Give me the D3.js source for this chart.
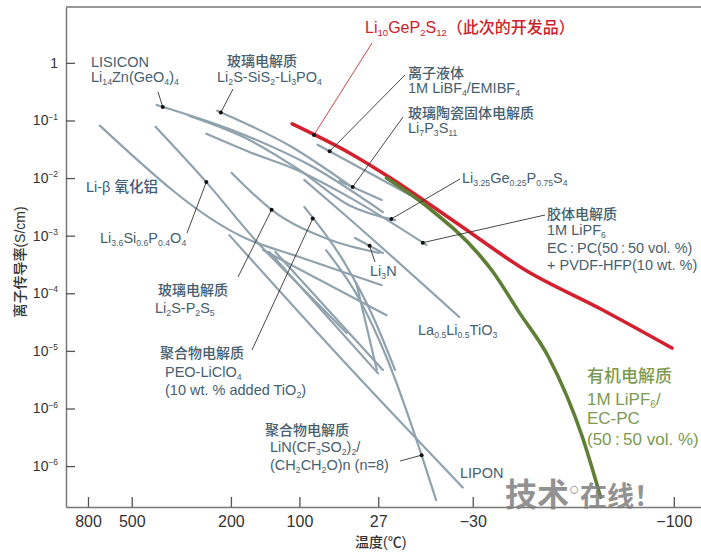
<!DOCTYPE html>
<html><head><meta charset="utf-8">
<script src="https://cdn.jsdelivr.net/npm/d3@7"></script>
<style>body{margin:0;background:#fff}svg{display:block}</style>
</head><body><svg id="chart" width="701" height="553"></svg>
<script>
// Arrhenius plot: x = 1000/T (K^-1), y = log10(conductivity / S cm^-1)
const tempTicks = [800, 500, 200, 100, 27, -30, -100];          // °C
const logTicks = [0, -1, -2, -3, -4, -5, -6, -7];
const logTickLabels = ["1", "10^{−1}", "10^{−2}", "10^{−3}", "10^{−4}", "10^{−5}", "10^{−6}", "10^{−6}"];

// Li10GeP2S12 and the organic liquid electrolyte
const lgps = [[2.62,-1.06],[3.09,-1.56],[3.42,-1.98],[4.00,-2.81],[4.55,-3.60],[5.16,-4.26],[5.76,-4.95]];
const organic = [[3.40,-2.00],[3.75,-2.52],[4.17,-3.34],[4.27,-3.60],[4.50,-4.34],[4.74,-5.11],[5.02,-6.50],[5.17,-7.54]];

// other electrolytes
const liBetaAlumina = [[1.03,-1.09],[2.23,-3.04],[2.68,-3.37],[3.36,-3.86]];
const lisicon = [[1.50,-0.73],[2.19,-1.22],[2.76,-1.77],[3.37,-2.59]];
const glassSiS2 = [[2.00,-0.83],[2.60,-1.44],[3.11,-2.15]];
const li7p3s11 = [[3.01,-2.05],[3.36,-2.38]];
const ionicLiquid = [[2.83,-1.42],[3.59,-2.29]];
const gel = [[1.91,-1.23],[2.27,-1.55],[2.66,-1.86],[3.09,-2.33],[3.73,-3.16]];
const thioLisicon = [[1.77,-0.92],[2.23,-1.30],[2.68,-1.86],[3.09,-2.47],[3.47,-2.73]];
const liSiPO = [[1.49,-1.11],[1.91,-2.07],[2.33,-3.11],[2.68,-3.86],[3.07,-4.69]];
const glassP2S5 = [[2.12,-1.91],[2.45,-2.55],[2.93,-3.07],[3.34,-3.30]];
const li3n = [[3.14,-3.04],[3.37,-3.30]];
const llto = [[2.72,-2.03],[3.04,-2.61],[4.00,-4.41]];
const peo = [[2.72,-2.50],[3.05,-3.46],[3.30,-4.46],[3.47,-5.33]];
const peoLiTFSI = [[2.90,-3.25],[3.18,-4.12],[3.40,-5.11],[3.69,-6.81],[3.81,-7.59]];
const lipon = [[2.10,-2.99],[3.09,-5.28],[4.03,-7.37]];
const otherA = [[2.38,-3.25],[3.40,-4.38]];
const otherB = [[2.43,-3.28],[3.33,-5.39]];
const otherC = [[2.48,-3.28],[3.37,-5.33]];
const otherD = [[3.15,-3.82],[3.32,-5.33]];

const grayLines = [liBetaAlumina, lisicon, glassSiS2, li7p3s11, ionicLiquid, gel, thioLisicon,
  liSiPO, glassP2S5, li3n, llto, peo, peoLiTFSI, lipon, otherA, otherB, otherC, otherD];

const W = 701, H = 553;
const svg = d3.select("#chart");
const FONT = "'Liberation Sans','Noto Sans CJK SC',Arial,sans-serif";
const x = d3.scaleLinear().domain([0.75, 6.0]).range([66, 701]);
const y = d3.scaleLinear().domain([-7.71, 0.97]).range([507, 7]);
const invT = c => 1000 / (c + 273.15);

// text with _{sub} and ^{sup} runs
function rich(g, str, size) {
  const re = /([_^])\{([^}]*)\}|([^_^]+)/g;
  let m, cur = 0;
  while ((m = re.exec(str))) {
    if (m[3] !== undefined) {
      g.append("tspan").attr("font-size", size).attr("dy", -cur).text(m[3]);
      cur = 0;
    } else {
      const t = m[1] === "_" ? size * 0.2 : -size * 0.42;
      g.append("tspan").attr("font-size", size * 0.6).attr("dy", t - cur).text(m[2]);
      cur = t;
    }
  }
  return g;
}
function label(str, px, py, size, color, extra) {
  const t = svg.append("text").attr("x", px).attr("y", py)
    .attr("font-family", FONT).attr("fill", color);
  if (extra) extra(t);
  return rich(t, str, size);
}
const cjk = t => t.attr("font-weight", 500);

// frame
svg.append("line").attr("x1", 66).attr("x2", W).attr("y1", 7).attr("y2", 7)
  .attr("stroke", "#777").attr("stroke-width", 1.5);

const xAxis = d3.axisBottom(x).tickValues(tempTicks.map(invT))
  .tickFormat((d, i) => String(tempTicks[i]).replace("-", "−"))
  .tickSize(-10).tickSizeOuter(0).tickPadding(9);
const gx = svg.append("g").attr("transform", `translate(0,${y.range()[0]})`).call(xAxis);
gx.select(".domain").attr("stroke", "#777").attr("stroke-width", 1.5);
gx.selectAll(".tick line").attr("stroke", "#555").attr("stroke-width", 1.3);
gx.selectAll(".tick text").attr("font-family", FONT).attr("font-size", 16).attr("fill", "#333");

const yAxis = d3.axisLeft(y).tickValues(logTicks).tickFormat("").tickSize(-9).tickSizeOuter(0);
const gy = svg.append("g").attr("transform", `translate(${x.range()[0]},0)`).call(yAxis);
gy.select(".domain").attr("stroke", "#777").attr("stroke-width", 1.5);
gy.selectAll(".tick line").attr("stroke", "#555").attr("stroke-width", 1.3);
logTicks.forEach((v, i) => {
  label(logTickLabels[i], 58, y(v) + 5, 14, "#333", t => t.attr("text-anchor", "end"));
});

// axis titles
svg.append("text").attr("x", 355).attr("y", 547).attr("font-family", FONT).attr("font-weight", 500)
  .attr("font-size", 14).attr("fill", "#333").text("温度(℃)");
svg.append("text").attr("transform", "translate(25,262) rotate(-90)").attr("text-anchor", "middle")
  .attr("font-family", FONT).attr("font-weight", 500).attr("font-size", 14).attr("fill", "#333")
  .text("离子传导率(S/cm)");

// curves
const line = d3.line().x(d => x(d[0])).y(d => y(d[1])).curve(d3.curveMonotoneX);
svg.append("g").selectAll("path").data(grayLines).join("path")
  .attr("d", line).attr("fill", "none").attr("stroke", "#90a2ad")
  .attr("stroke-width", 2.2).attr("stroke-linecap", "round");
svg.append("path").attr("d", line(lgps)).attr("fill", "none")
  .attr("stroke", "#d3202e").attr("stroke-width", 3.6).attr("stroke-linecap", "round");
svg.append("path").attr("d", line(organic)).attr("fill", "none")
  .attr("stroke", "#5f7f36").attr("stroke-width", 3.6).attr("stroke-linecap", "round");

// value of a series at a given 1000/T
function at(series, xv) {
  for (let i = 1; i < series.length; i++) {
    const [x0, y0] = series[i - 1], [x1, y1] = series[i];
    if (xv <= x1) return y0 + (y1 - y0) * (xv - x0) / (x1 - x0);
  }
  return series[series.length - 1][1];
}

// leader lines from labels to curves
const leaders = [
  { s: lisicon, xv: 1.55, from: [158, 92], c: "#333" },
  { s: glassSiS2, xv: 2.03, from: [233, 89], c: "#333" },
  { s: liSiPO, xv: 1.91, from: [187, 233], c: "#333" },
  { s: glassP2S5, xv: 2.45, from: [238, 277], c: "#333" },
  { s: peo, xv: 2.79, from: [252, 350], c: "#333" },
  { s: li3n, xv: 3.26, from: [375, 262], c: "#333" },
  { s: peoLiTFSI, xv: 3.69, from: [400, 461], c: "#333" },
  { s: lgps, xv: 2.80, from: [372, 43], c: "#c8313c" },
  { s: ionicLiquid, xv: 2.93, from: [405, 75], c: "#333" },
  { s: li7p3s11, xv: 3.12, from: [403, 117], c: "#333" },
  { s: thioLisicon, xv: 3.44, from: [460, 179], c: "#333" },
  { s: gel, xv: 3.70, from: [545, 215], c: "#333" },
];
leaders.forEach(d => {
  const tx = x(d.xv), ty = y(at(d.s, d.xv));
  svg.append("line").attr("x1", d.from[0]).attr("y1", d.from[1]).attr("x2", tx).attr("y2", ty)
    .attr("stroke", d.c).attr("stroke-width", 0.9);
  svg.append("circle").attr("cx", tx).attr("cy", ty).attr("r", 2).attr("fill", "#111");
});

// labels
const LC = "#46606f", TS = 14.5;
label("LISICON", 91, 67, TS, LC);
label("Li_{14}Zn(GeO_{4})_{4}", 91, 82, TS, LC);
label("玻璃电解质", 227, 66, 14, LC, cjk);
label("Li_{2}S-SiS_{2}-Li_{3}PO_{4}", 217, 82, TS, LC);
label("Li-β 氧化铝", 86, 192, 14.5, "#3f5b78", cjk);
label("Li_{3.6}Si_{0.6}P_{0.4}O_{4}", 100, 243, TS, LC);
label("玻璃电解质", 158, 295, 14, LC, cjk);
label("Li_{2}S-P_{2}S_{5}", 155, 313, TS, LC);
label("聚合物电解质", 160, 358, 14, LC, cjk);
label("PEO-LiClO_{4}", 165, 377, TS, LC);
label("(10 wt. % added TiO_{2})", 165, 395, TS, LC);
label("聚合物电解质", 265, 435, 14, LC, cjk);
label("LiN(CF_{3}SO_{2})_{2}/", 270, 452, TS, LC);
label("(CH_{2}CH_{2}O)n (n=8)", 270, 470, TS, LC);
label("LIPON", 460, 478, TS, LC);
label("La_{0.5}Li_{0.5}TiO_{3}", 418, 335, TS, LC);
label("Li_{3}N", 370, 276, TS, LC);
label("Li_{10}GeP_{2}S_{12}（此次的开发品）", 365, 33, 16, "#d0202a", cjk);
label("离子液体", 408, 78, 14, LC, cjk);
label("1M LiBF_{4}/EMIBF_{4}", 408, 93, TS, LC);
label("玻璃陶瓷固体电解质", 408, 118, 14, LC, cjk);
label("Li_{7}P_{3}S_{11}", 408, 133, TS, LC);
label("Li_{3.25}Ge_{0.25}P_{0.75}S_{4}", 462, 183, TS, LC);
label("胶体电解质", 547, 219, 14, LC, cjk);
label("1M LiPF_{6}", 547, 235, TS, LC);
label("EC\u2009:\u2009PC(50\u2009:\u200950 vol. %)", 547, 253, 14.5, LC);
label("+ PVDF-HFP(10 wt. %)", 547, 270, 14.5, LC);
const GC = "#7b9a52";
label("有机电解质", 587, 382, 17, GC, cjk);
label("1M LiPF_{6}/", 587, 405, 17, GC);
label("EC-PC", 587, 424, 17, GC);
label("(50\u2009:\u200950 vol. %)", 587, 445, 17, GC);

// watermark
const wm = svg.append("text").attr("x", 505).attr("y", 506).attr("font-family", FONT)
  .attr("fill", "#808080").attr("opacity", 0.85).attr("font-weight", "bold");
wm.append("tspan").attr("font-size", 32).text("技术");
wm.append("tspan").attr("font-size", 18).attr("font-weight", "normal").attr("dy", -11).text("○");
wm.append("tspan").attr("font-size", 27).attr("dy", 11).text("在线！");
</script></body></html>
